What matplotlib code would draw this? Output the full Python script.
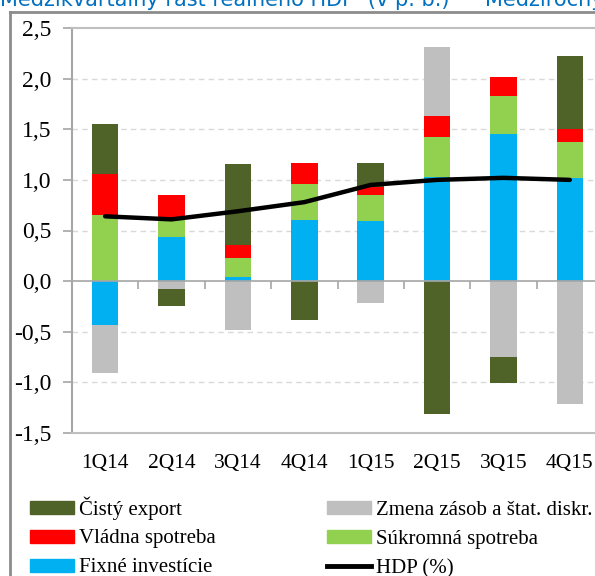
import numpy as np
import matplotlib.pyplot as plt
from matplotlib.patches import Patch
from matplotlib.lines import Line2D
from matplotlib.ticker import FuncFormatter

# quarters on the x axis
quarters = ["1Q14", "2Q14", "3Q14", "4Q14", "1Q15", "2Q15", "3Q15", "4Q15"]

# contributions to q/q real GDP growth (p.p.)
fixne_investicie = [-0.43, 0.435, 0.04, 0.60, 0.59, 1.03, 1.45, 1.02]
sukromna_spotreba = [0.65, 0.165, 0.19, 0.355, 0.265, 0.395, 0.38, 0.35]
vladna_spotreba = [0.41, 0.255, 0.13, 0.21, 0.075, 0.205, 0.19, 0.13]
zmena_zasob = [-0.48, -0.08, -0.48, 0.0, -0.22, 0.68, -0.745, -1.21]
cisty_export = [0.49, -0.17, 0.80, -0.385, 0.24, -1.31, -0.265, 0.72]
hdp = [0.64, 0.61, 0.69, 0.78, 0.95, 1.00, 1.02, 1.00]

c_export = "#4F6228"
c_zasoby = "#BFBFBF"
c_vlada = "#FF0000"
c_sukromna = "#92D050"
c_invest = "#00B0F0"

plt.rcParams['font.family'] = ['Liberation Serif', 'DejaVu Serif']

fig = plt.figure(figsize=(5.95, 5.76), dpi=100)
W, H = 595, 576
ax = fig.add_axes([72 / W, (H - 433) / H, (603 - 72) / W, (433 - 28) / H])

x = np.arange(len(quarters))
pos_bottom = np.zeros(len(quarters))
neg_bottom = np.zeros(len(quarters))
# stacking order as in the original (investment at the bottom)
for vals, col in [(fixne_investicie, c_invest), (sukromna_spotreba, c_sukromna),
                  (vladna_spotreba, c_vlada), (zmena_zasob, c_zasoby),
                  (cisty_export, c_export)]:
    v = np.array(vals)
    bottom = np.where(v >= 0, pos_bottom, neg_bottom)
    ax.bar(x, v, 0.4, bottom=bottom, color=col, zorder=2)
    pos_bottom = pos_bottom + np.where(v >= 0, v, 0)
    neg_bottom = neg_bottom + np.where(v < 0, v, 0)

ax.plot(x, hdp, color="black", lw=3.2, solid_capstyle="round", zorder=4)

ax.set_xlim(-0.5, len(quarters) - 0.5)
ax.set_ylim(-1.5, 2.5)
ax.set_yticks(np.arange(-1.5, 2.51, 0.5))
ax.yaxis.set_major_formatter(FuncFormatter(lambda v, p: f"{v:.1f}".replace(".", ",")))

# dashed gridlines
for yv in np.arange(-1.0, 2.01, 0.5):
    if abs(yv) > 1e-9:
        ax.axhline(yv, color="#D9D9D9", lw=1, dashes=(4, 3), zorder=1)

# zero axis with category tick marks
ax.axhline(0, color="#A6A6A6", lw=1.2, zorder=3)
ax.vlines(x[:-1] + 0.5, -0.08, 0, color="#A6A6A6", lw=1.2, zorder=3)

ax.set_xticks(x)
ax.set_xticklabels(quarters, fontsize=15.5)
ax.tick_params(axis="x", length=0, pad=15)
ax.tick_params(axis="y", length=6.5, color="#A6A6A6", width=1.2, labelsize=17, pad=8)

for s in ["top", "bottom", "left"]:
    ax.spines[s].set_color("#BFBFBF")
    ax.spines[s].set_linewidth(1.5)
ax.spines["left"].set_color("#A6A6A6")
ax.spines["right"].set_visible(False)

# frame of the chart area (cropped)
fig.add_artist(Line2D([10 / W, 10 / W], [0, (H - 12) / H], color="#8C8C8C", lw=2))
fig.add_artist(Line2D([10 / W, 1], [(H - 12) / H, (H - 12) / H], color="#8C8C8C", lw=2))

# titles, cut at the top edge
fig.text(0 / W, (H - 6) / H, "Medzikvartálny rast reálneho HDP  (v p. b.)", color="#0070C0",
         fontsize=15, family="DejaVu Sans", va="baseline")
fig.text(485 / W, (H - 6) / H, "Medziročný rast reálneho HDP", color="#0070C0",
         fontsize=15, family="DejaVu Sans", va="baseline")

leg_kw = dict(frameon=False, fontsize=15, handlelength=2.1, handleheight=0.58,
              handletextpad=0.25, labelspacing=0.48, borderpad=0, borderaxespad=0)
h1 = [Patch(color=c_export), Patch(color=c_vlada), Patch(color=c_invest)]
l1 = ["Čistý export", "Vládna spotreba", "Fixné investície"]
h2 = [Patch(color=c_zasoby), Patch(color=c_sukromna), Line2D([], [], color="black", lw=3.5)]
l2 = ["Zmena zásob a štat. diskr.", "Súkromná spotreba", "HDP (%)"]
fig.legend(h1, l1, loc="upper left", bbox_to_anchor=(30 / W, (H - 496) / H), **leg_kw)
fig.legend(h2, l2, loc="upper left", bbox_to_anchor=(327 / W, (H - 501) / H), **leg_kw)

fig.savefig("out.png", dpi=100)
